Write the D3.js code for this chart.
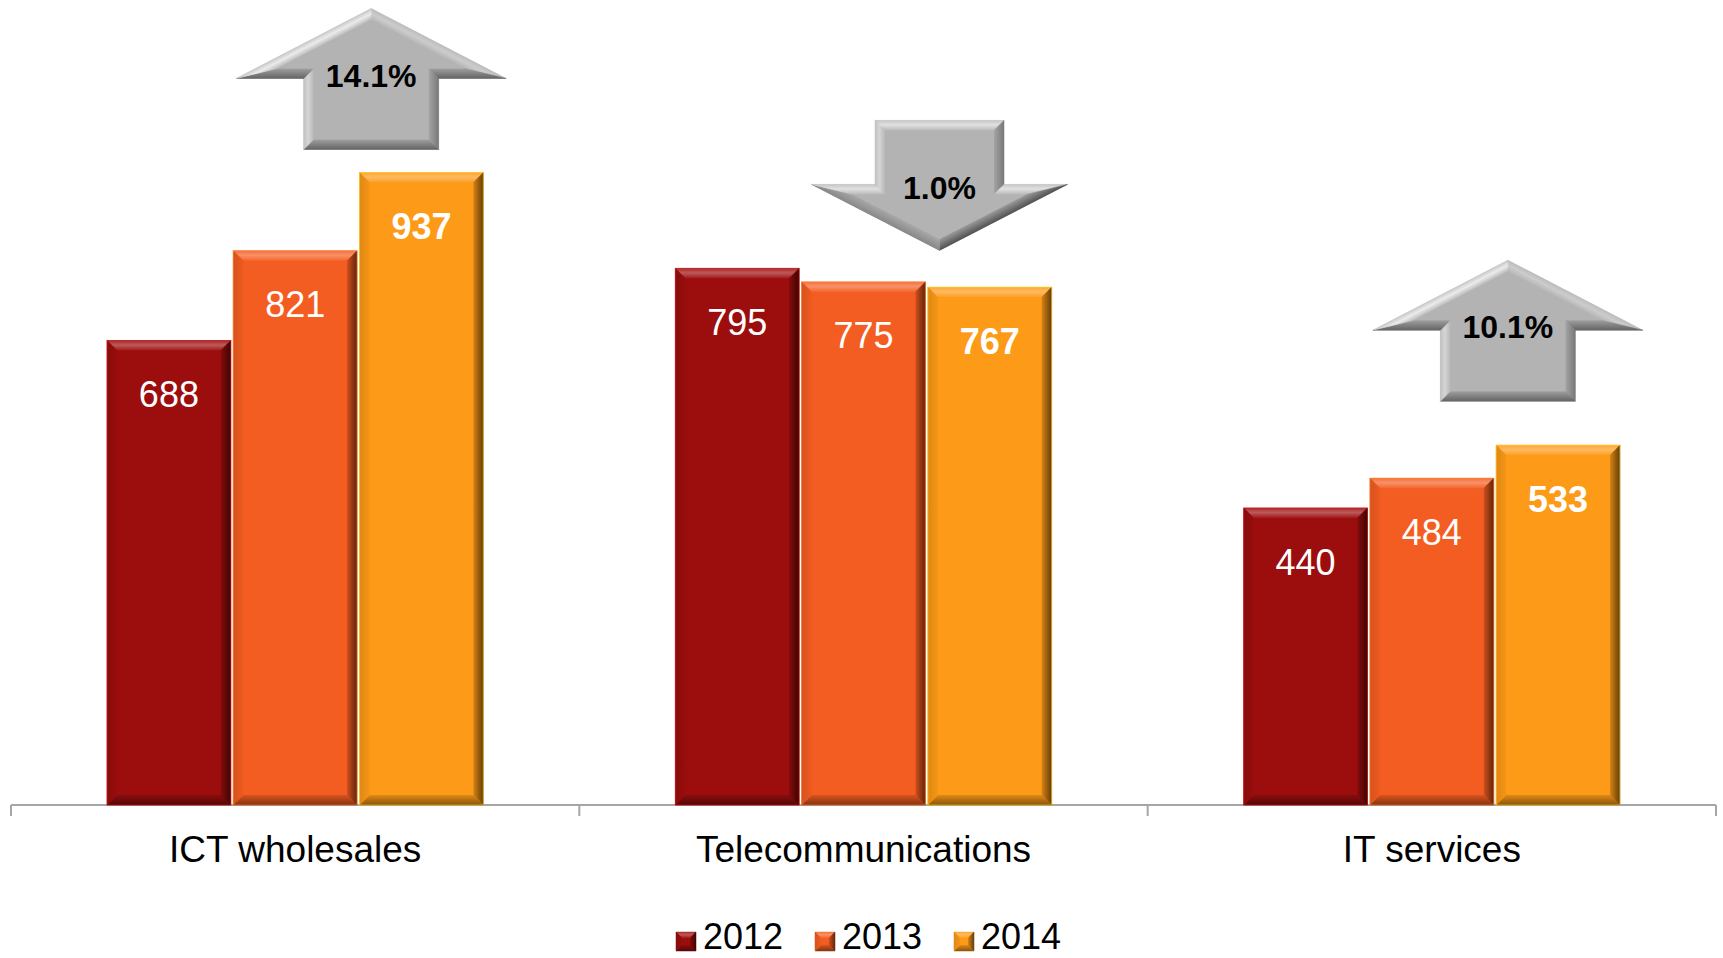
<!DOCTYPE html>
<html>
<head>
<meta charset="utf-8">
<script src="https://cdn.jsdelivr.net/npm/d3@7"></script>
<style>
body { margin: 0; background: #fff; }
svg { display: block; font-family: "Liberation Sans", Arial, sans-serif; }
</style>
</head>
<body>
<script>
const categories = ["ICT wholesales", "Telecommunications", "IT services"]
const years      = ["2012", "2013", "2014"]
const v2012      = [688, 795, 440]
const v2013      = [821, 775, 484]
const v2014      = [937, 767, 533]
const changes    = ["14.1%", "1.0%", "10.1%"]
const directions = ["up", "down", "up"]

const colors = {"2012": "#9c0d0d", "2013": "#f45d21", "2014": "#fd9a17"}
const arrowGray = "#b3b3b3"
const arrowGap  = [23, 18, 44]   // space between arrow and tallest bar

const width = 1723, height = 958
const base = 805

const svg = d3.select("body").append("svg")
    .attr("width", width)
    .attr("height", height)

const defs = svg.append("defs")
let gradId = 0

const x0 = d3.scaleBand().domain(categories).range([11, 1716])
const groupW = x0.bandwidth() * 0.662
const x1 = d3.scaleBand().domain(years).range([0, groupW]).paddingInner(0.02)
const y = d3.scaleLinear().domain([0, 1000]).range([base, 130])

const rows = categories.map((c, i) => ({
    cat: c,
    values: [v2012[i], v2013[i], v2014[i]].map((v, j) => ({year: years[j], value: v}))
}))

// ---- bevel helpers ----
function inward(a, b) {
    const dx = b[0] - a[0], dy = b[1] - a[1], l = Math.hypot(dx, dy)
    return [-dy / l, dx / l]
}
function insetPoly(pts, d) {
    const n = pts.length
    return pts.map((p, i) => {
        const a = pts[(i - 1 + n) % n], b = pts[(i + 1) % n]
        const m1 = inward(a, p), m2 = inward(p, b)
        const k = d / (1 + m1[0] * m2[0] + m1[1] * m2[1])
        return [p[0] + k * (m1[0] + m2[0]), p[1] + k * (m1[1] + m2[1])]
    })
}
function mix(c, to, t) { return d3.interpolateRgb(c, to)(Math.max(0, Math.min(1, t))) }

function bevel(g, pts, d, fill, shadeFn) {
    const inner = insetPoly(pts, d)
    const n = pts.length
    g.append("polygon").attr("points", pts.join(" ")).attr("fill", fill)
    for (let i = 0; i < n; i++) {
        const a = pts[i], b = pts[(i + 1) % n]
        const ia = inner[i], ib = inner[(i + 1) % n]
        const m = inward(a, b)
        const s = shadeFn([-m[0], -m[1]])
        const id = "bv" + (gradId++)
        const mx = (a[0] + b[0]) / 2, my = (a[1] + b[1]) / 2
        const grad = defs.append("linearGradient").attr("id", id)
            .attr("gradientUnits", "userSpaceOnUse")
            .attr("x1", mx).attr("y1", my)
            .attr("x2", mx + m[0] * d).attr("y2", my + m[1] * d)
        let stops
        if (s >= 0) {
            stops = [[0, mix(fill, "#fff", s * 0.4)], [0.45, mix(fill, "#fff", s)], [1, mix(fill, "#fff", s * 0.15)]]
        } else {
            stops = [[0, mix(fill, "#000", -s)], [1, mix(fill, "#000", -s * 0.25)]]
        }
        stops.forEach(st => grad.append("stop").attr("offset", st[0]).attr("stop-color", st[1]))
        g.append("polygon")
            .attr("points", [a, b, ib, ia].join(" "))
            .attr("fill", `url(#${id})`)
            .attr("stroke", `url(#${id})`)
            .attr("stroke-width", 0.5)
    }
    g.append("polygon").attr("points", inner.join(" ")).attr("fill", fill)
}

function barShade(n) {
    if (n[1] < -0.5) return 0.32
    if (n[0] > 0.5) return -0.6
    if (n[1] > 0.5) return -0.45
    return -0.12
}
function arrowShade(n) {
    const s = n[0] * -0.6 + n[1] * -0.8
    return s >= 0 ? s * 0.75 : s * 0.55
}

// ---- axis ----
const axisG = svg.append("g").attr("transform", `translate(0, ${base})`)
axisG.call(d3.axisBottom(x0).tickSize(0).tickPadding(30.5))
axisG.select(".domain").remove()
axisG.selectAll("text")
    .attr("font-size", 37)
    .attr("font-family", "Liberation Sans, Arial, sans-serif")
    .attr("fill", "#000")

svg.append("line")
    .attr("x1", x0.range()[0]).attr("x2", x0.range()[1])
    .attr("y1", base).attr("y2", base)
    .attr("stroke", "#a6a6a6").attr("stroke-width", 2)
d3.range(categories.length + 1).forEach(i => {
    const xx = x0.range()[0] + i * x0.step()
    svg.append("line")
        .attr("x1", xx).attr("x2", xx)
        .attr("y1", base).attr("y2", base + 11)
        .attr("stroke", "#a6a6a6").attr("stroke-width", 2)
})

// ---- bars ----
rows.forEach(r => {
    const gx = x0(r.cat) + (x0.bandwidth() - groupW) / 2
    r.values.forEach(d => {
        const xa = gx + x1(d.year), xb = xa + x1.bandwidth()
        const yt = y(d.value)
        const g = svg.append("g")
        bevel(g, [[xa, yt], [xb, yt], [xb, base], [xa, base]], 10, colors[d.year], barShade)
        g.append("rect")
            .attr("x", xa).attr("y", yt)
            .attr("width", xb - xa).attr("height", base - yt)
            .attr("fill", "none")
            .attr("stroke", d3.color(colors[d.year]).brighter(0.9))
            .attr("stroke-opacity", 0.6)
            .attr("stroke-width", 1)
        g.append("text")
            .attr("x", (xa + xb) / 2)
            .attr("y", yt + 54)
            .attr("dy", "0.35em")
            .attr("text-anchor", "middle")
            .attr("font-size", 36)
            .attr("font-weight", d.year === "2014" ? "bold" : "normal")
            .attr("fill", "#fff")
            .text(d.value)
    })
})

// ---- change arrows ----
rows.forEach((r, i) => {
    const cx = x0(r.cat) + x0.bandwidth() / 2 + 76
    const top_ = y(d3.max(r.values, d => d.value)) - arrowGap[i]
    const g = svg.append("g")
    let pts, top
    if (directions[i] === "up") {
        const W = 270, S = 135, head = 70, total = 141
        top = top_ - total
        pts = [[cx, top], [cx + W / 2, top + head], [cx + S / 2, top + head], [cx + S / 2, top + total],
               [cx - S / 2, top + total], [cx - S / 2, top + head], [cx - W / 2, top + head]]
    } else {
        const W = 256, S = 129, shaft = 64, total = 130
        top = top_ - total
        pts = [[cx - S / 2, top], [cx + S / 2, top], [cx + S / 2, top + shaft], [cx + W / 2, top + shaft],
               [cx, top + total], [cx - W / 2, top + shaft], [cx - S / 2, top + shaft]]
    }
    bevel(g, pts, 10, arrowGray, arrowShade)
    g.append("text")
        .attr("x", cx)
        .attr("y", top + 67)
        .attr("dy", "0.35em")
        .attr("text-anchor", "middle")
        .attr("font-size", 32)
        .attr("font-weight", "bold")
        .attr("fill", "#000")
        .text(changes[i])
})

// ---- legend ----
const legend = svg.append("g")
years.forEach((yr, i) => {
    const lx = 676 + i * 139
    const g = legend.append("g")
    bevel(g, [[lx, 932], [lx + 20, 932], [lx + 20, 951], [lx, 951]], 6, colors[yr], barShade)
    g.append("text")
        .attr("x", lx + 27)
        .attr("y", 949)
        .attr("font-size", 36)
        .attr("fill", "#000")
        .text(yr)
})
</script>
</body>
</html>
